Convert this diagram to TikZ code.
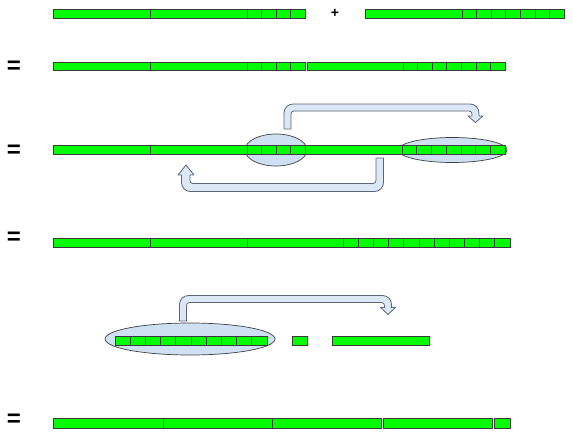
\documentclass[tikz,border=0pt]{standalone}
\usepackage{fontspec}
\setmainfont{Liberation Sans}
\definecolor{cellgreen}{HTML}{00FF00}
\definecolor{cellline}{HTML}{3A3A3A}
\definecolor{ellfill}{HTML}{D0E0F3}
\definecolor{ellline}{HTML}{404040}
\definecolor{arrfill}{HTML}{DCE8F6}
\definecolor{arrline}{HTML}{5A6778}
\tikzset{
  cell/.style={fill=cellgreen, draw=cellline, line width=0.8pt},
  hole/.style={fill=ellfill, draw=ellline, line width=0.7pt},
  uarrow/.style={fill=arrfill, draw=arrline, line width=0.8pt, line join=round},
  eqsign/.style={inner sep=0pt, font=\fontsize{24}{24}\selectfont\bfseries},
  plussign/.style={inner sep=0pt, text=black, font=\fontsize{14}{14}\selectfont\bfseries}
}
\begin{document}
\begin{tikzpicture}[x=1pt,y=-1pt]
\useasboundingbox (0,0) rectangle (573,434);
% ---------- row 1 ----------
\foreach \a/\b in {53/150,150/247,247/261.7,261.7/276,276/290.5,290.5/305}
  \draw[cell] (\a,9) rectangle (\b,18);
\node[plussign] (plus) at (335,13) {+};
\foreach \a/\b in {365/462,462/476.6,476.6/491.1,491.1/505.7,505.7/520.3,520.3/534.9,534.9/549.4,549.4/564}
  \draw[cell] (\a,9) rectangle (\b,18);
% ---------- row 2 ----------
\node[eqsign] (eq1) at (14,67.5) {=};
\foreach \a/\b in {53/150,150/247,247/261.7,261.7/276,276/290.5,290.5/305,307/403,403/417.6,417.6/432.1,432.1/446.7,446.7/461.3,461.3/475.9,475.9/490.4,490.4/505}
  \draw[cell] (\a,62) rectangle (\b,70.5);
% ---------- row 3 ----------
\node[eqsign] (eq2) at (14,151) {=};
\draw[hole] (276,150) ellipse [x radius=31, y radius=16];
\draw[hole] (452.5,150) ellipse [x radius=54.5, y radius=12.5];
\foreach \a/\b in {53/150,150/247,247/261.7,261.7/276,276/290.7,290.7/305.5,305.5/402,402/416.7,416.7/431.4,431.4/446.1,446.1/460.9,460.9/475.6,475.6/490.3,490.3/505}
  \draw[cell] (\a,145.5) rectangle (\b,154.5);
% top U-arrow
\filldraw[uarrow] (284,129) [rounded corners=9pt] -- (284,104) -- (479,104) [sharp corners] -- (479,116) -- (483,116) -- (475.5,122.5) -- (468,116) -- (472,116) [rounded corners=3pt] -- (472,111) -- (291,111) [sharp corners] -- (291,129) -- cycle;
% bottom U-arrow
\filldraw[uarrow] (376,158) -- (383.5,158) [rounded corners=9pt] -- (383.5,191.5) -- (181.5,191.5) [sharp corners] -- (181.5,175) -- (178,175) -- (186,165) -- (194,175) -- (190,175) [rounded corners=3pt] -- (190,183.5) -- (376,183.5) [sharp corners] -- cycle;
% ---------- row 4 ----------
\node[eqsign] (eq3) at (14,238.5) {=};
\foreach \a/\b in {53/150,150/247,247/343}
  \draw[cell] (\a,238) rectangle (\b,247);
\foreach \i in {0,...,10}
  \draw[cell] ({343+15.18*\i},238) rectangle ({343+15.18*(\i+1)},247);
% ---------- row 5 ----------
\draw[hole] (190,339) ellipse [x radius=85, y radius=16];
\foreach \i in {0,...,9}
  \draw[cell] ({115+15.2*\i},336.5) rectangle ({115+15.2*(\i+1)},345);
\draw[cell] (292,336.5) rectangle (307,345);
\draw[cell] (332,336.5) rectangle (429,345);
\filldraw[uarrow] (179.5,321) [rounded corners=9pt] -- (179.5,295.5) -- (391.5,295.5) [sharp corners] -- (391.5,307.5) -- (395.5,307.5) -- (388,314.5) -- (380.5,307.5) -- (384.5,307.5) [rounded corners=3pt] -- (384.5,302.5) -- (186.5,302.5) [sharp corners] -- (186.5,321) -- cycle;
% ---------- row 6 ----------
\node[eqsign] (eq4) at (14,420.5) {=};
\foreach \a/\b in {53/163,163/272,272/381,383/492,494/510}
  \draw[cell] (\a,418) rectangle (\b,428);
\end{tikzpicture}
\end{document}
